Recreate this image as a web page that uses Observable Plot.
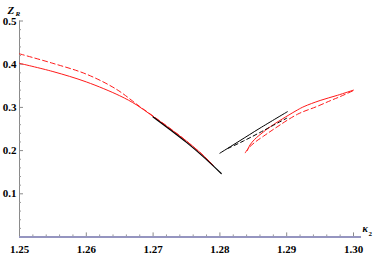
<!DOCTYPE html>
<html>
<head>
<meta charset="utf-8">
<script src="https://cdn.jsdelivr.net/npm/d3@7"></script>
<script src="https://cdn.jsdelivr.net/npm/@observablehq/plot@0.6"></script>
<style>
  html, body { margin: 0; padding: 0; background: #fff; }
  #chart svg { display: block; }
</style>
</head>
<body>
<div id="chart"></div>
<script>
// ---- data ----
const redSolidLeftX  = [1.25, 1.255, 1.26, 1.265, 1.2675, 1.27, 1.2725, 1.275, 1.2775, 1.279];
const redSolidLeftY  = [0.402, 0.383, 0.359, 0.327, 0.306, 0.279, 0.251, 0.222, 0.189, 0.166];
const redDashedLeftX = [1.25, 1.255, 1.26, 1.2645, 1.268, 1.27, 1.2725, 1.275, 1.2775, 1.279];
const redDashedLeftY = [0.424, 0.402, 0.377, 0.342, 0.302, 0.280, 0.252, 0.222, 0.189, 0.166];
const blackSolidLeftX = [1.27, 1.2725, 1.275, 1.2775, 1.2802];
const blackSolidLeftY = [0.278, 0.249, 0.219, 0.186, 0.147];

const blackSolidRightX = [1.28, 1.283, 1.286, 1.2901];
const blackSolidRightY = [0.194, 0.223, 0.252, 0.290];
const blackDashedRightX = [1.2812, 1.2835, 1.286, 1.2878, 1.29];
const blackDashedRightY = [0.205, 0.222, 0.242, 0.257, 0.275];
const redSolidRightX = [1.2841, 1.2845, 1.2852, 1.2865, 1.288, 1.2916, 1.2926, 1.295, 1.2976, 1.3];
const redSolidRightY = [0.200, 0.213, 0.226, 0.243, 0.260, 0.294, 0.302, 0.316, 0.328, 0.340];
const redDashedRightX = [1.2838, 1.2843, 1.2853, 1.2865, 1.288, 1.2916, 1.2945, 1.2966, 1.298, 1.3];
const redDashedRightY = [0.195, 0.206, 0.220, 0.233, 0.249, 0.284, 0.302, 0.316, 0.325, 0.339];

const xMajorTicks = [1.25, 1.26, 1.27, 1.28, 1.29, 1.30];
const xTickLabels = ["1.25", "1.26", "1.27", "1.28", "1.29", "1.30"];
const yMajorTicks = [0.1, 0.2, 0.3, 0.4, 0.5];
const yTickLabels = ["0.1", "0.2", "0.3", "0.4", "0.5"];
const xMinorStep = 0.002;
const yMinorStep = 0.02;

// ---- derived tables ----
const pts = (xs, ys) => xs.map((x, i) => ({x, y: ys[i]}));
const xMinor = d3.range(0, 26).map(i => +(1.25 + i * xMinorStep).toFixed(4))
  .filter(v => !xMajorTicks.some(t => Math.abs(t - v) < 1e-9));
const yMinor = d3.range(1, 26).map(i => +(i * yMinorStep).toFixed(4))
  .filter(v => !yMajorTicks.some(t => Math.abs(t - v) < 1e-9));

const serif = "'Liberation Serif', 'DejaVu Serif', serif";
const red = "#ff1a1a";

const plot = Plot.plot({
  width: 382,
  height: 254,
  marginLeft: 19,
  marginRight: 29,
  marginTop: 20.5,
  marginBottom: 17.5,
  x: {domain: [1.25, 1.30], axis: null},
  y: {domain: [0, 0.5], axis: null},
  style: {fontFamily: serif, background: "#fff", overflow: "visible"},
  marks: [
    // y axis line
    Plot.ruleX([1.25], {y1: 0, y2: 0.5, stroke: "#8a8a8a", strokeWidth: 1}),
    // y ticks (inward)
    Plot.ruleY(yMajorTicks, {y: d => d, x1: 1.25, x2: 1.25 + 0.0006, stroke: "#8a8a8a"}),
    Plot.ruleY(yMinor, {y: d => d, x1: 1.25, x2: 1.25 + 0.0003, stroke: "#9a9a9a"}),
    // y tick labels
    Plot.text(yMajorTicks, {x: 1.25, y: d => d, text: (d, i) => yTickLabels[i], textAnchor: "end", dx: -3, fontSize: 11, fontWeight: "bold", fill: "#000"}),
    // x ticks (inward, upward)
    Plot.ruleX(xMajorTicks, {x: d => d, y1: 0, y2: 0.0095, stroke: "#8a8a8a"}),
    Plot.ruleX(xMinor, {x: d => d, y1: 0, y2: 0.0048, stroke: "#9a9a9a"}),
    // x axis line
    Plot.ruleY([0], {x1: 1.25, x2: 1.3012, stroke: "#9595c0", strokeWidth: 2}),
    // x tick labels
    Plot.text(xMajorTicks, {x: d => d, y: 0, text: (d, i) => xTickLabels[i], dy: 12, fontSize: 11, fontWeight: "bold", fill: "#000"}),
    // curves
    Plot.line(pts(redSolidLeftX, redSolidLeftY), {x: "x", y: "y", curve: "catmull-rom", stroke: red, strokeWidth: 1}),
    Plot.line(pts(redDashedLeftX, redDashedLeftY), {x: "x", y: "y", curve: "catmull-rom", stroke: red, strokeWidth: 1, strokeDasharray: "5,3"}),
    Plot.line(pts(redSolidRightX, redSolidRightY), {x: "x", y: "y", curve: "catmull-rom", stroke: red, strokeWidth: 1}),
    Plot.line(pts(redDashedRightX, redDashedRightY), {x: "x", y: "y", curve: "catmull-rom", stroke: red, strokeWidth: 1, strokeDasharray: "5,3"}),
    Plot.line(pts(blackSolidLeftX, blackSolidLeftY), {x: "x", y: "y", curve: "catmull-rom", stroke: "#000", strokeWidth: 1.2}),
    Plot.line(pts(blackSolidRightX, blackSolidRightY), {x: "x", y: "y", curve: "catmull-rom", stroke: "#000", strokeWidth: 1}),
    Plot.line(pts(blackDashedRightX, blackDashedRightY), {x: "x", y: "y", curve: "catmull-rom", stroke: "#000", strokeWidth: 1, strokeDasharray: "4,3"}),
    // axis labels
    Plot.text(["Z"], {frameAnchor: "top-left", dx: -12, dy: -15, text: d => d, fontStyle: "italic", fontWeight: "bold", fontSize: 11, textAnchor: "start", fill: "#000"}),
    Plot.text(["R"], {frameAnchor: "top-left", dx: -4, dy: -10, text: d => d, fontStyle: "italic", fontWeight: "bold", fontSize: 7, textAnchor: "start", fill: "#000"}),
    Plot.text(["κ"], {frameAnchor: "bottom-right", dx: 9, dy: -5, text: d => d, fontStyle: "italic", fontWeight: "bold", fontSize: 10, textAnchor: "start", fill: "#000"}),
    Plot.text(["2"], {frameAnchor: "bottom-right", dx: 15, dy: -1, text: d => d, fontWeight: "bold", fontSize: 7, textAnchor: "start", fill: "#000"})
  ]
});
document.getElementById("chart").appendChild(plot);
</script>
</body>
</html>
